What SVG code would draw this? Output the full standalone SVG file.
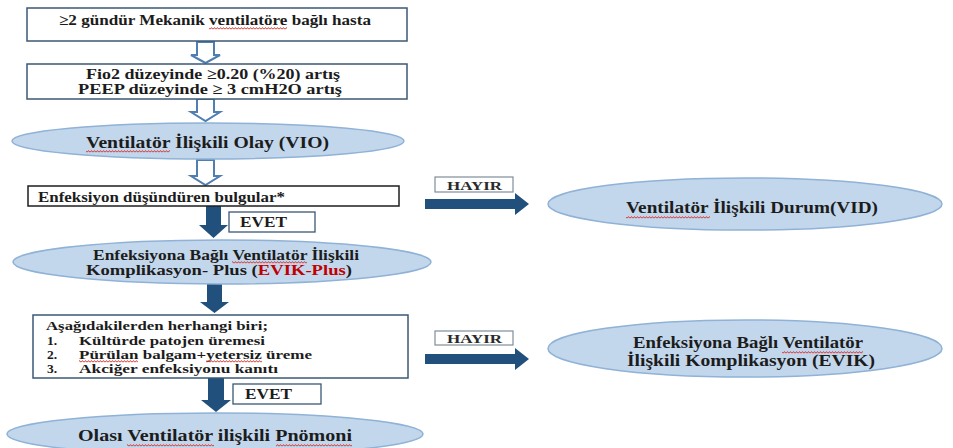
<svg xmlns="http://www.w3.org/2000/svg" width="953" height="448" viewBox="0 0 953 448" font-family="'Liberation Serif', 'Times New Roman', serif">
<defs>
<pattern id="wave" x="0" y="0" width="3" height="3" patternUnits="userSpaceOnUse">
  <path d="M0,2.4 L1.5,0.6 L3,2.4" fill="none" stroke="#d9302c" stroke-width="1"/>
</pattern>
</defs>
<style>
.box{fill:#ffffff;stroke:#3b5875;stroke-width:1.5}
.box3{fill:#ffffff;stroke:#1e1e1e;stroke-width:1.5}
.lbl{fill:#ffffff;stroke:#3b5875;stroke-width:1.3}
.lblg{fill:#ffffff;stroke:#7f8c99;stroke-width:1.2}
.ell{fill:#c3d7ec;stroke:#8fb2d6;stroke-width:1.5}
text{font-family:"Liberation Serif","Times New Roman",serif;font-weight:bold;fill:#1c1c1c}
.t{font-size:15px}
.tl{font-size:13.5px}
.tb{font-size:17.5px}
.ts{font-size:12.5px;fill:#2a2a2a}
.red{fill:#c00000}
.sq{fill:url(#wave)}
.hollow{fill:#ffffff;stroke:#4f7fb0;stroke-width:2;stroke-linejoin:miter}
.solid{fill:#22507d}
</style>

<g id="connectors">
  <path class="hollow" d="M197,42 L214,42 L214,55 L220,55 L205.5,63 L191,55 L197,55 Z"/>
  <path class="hollow" d="M197,99 L214,99 L214,112 L220,112 L205.5,121 L191,112 L197,112 Z"/>
  <path class="hollow" d="M197,160 L214,160 L214,176 L220,176 L205.5,185 L191,176 L197,176 Z"/>
  <path class="solid" d="M206,206 L221,206 L221,225 L228,225 L213.5,238 L199,225 L206,225 Z"/>
  <path class="solid" d="M207,284 L222,284 L222,302 L229,302 L214.5,313 L200,302 L207,302 Z"/>
  <path class="solid" d="M208,378 L224,378 L224,400 L231,400 L216,412 L201,400 L208,400 Z"/>
  <path class="solid" d="M425,199 L515,199 L515,193 L529,204 L515,215 L515,209 L425,209 Z"/>
  <path class="solid" d="M425,354 L515,354 L515,348 L529,359 L515,370 L515,364 L425,364 Z"/>
  <g id="lbl-evet1"><rect class="lbl" x="229" y="212" width="86" height="20"/><text class="t" x="263.5" y="227" text-anchor="middle" textLength="47" lengthAdjust="spacingAndGlyphs">EVET</text></g>
  <g id="lbl-evet2"><rect class="lbl" x="233" y="384" width="88" height="20"/><text class="t" x="268.5" y="399" text-anchor="middle" textLength="47" lengthAdjust="spacingAndGlyphs">EVET</text></g>
  <g id="lbl-hayir1"><rect class="lblg" x="435" y="177" width="78" height="15"/><text class="ts" x="474.5" y="189.5" text-anchor="middle" textLength="55" lengthAdjust="spacingAndGlyphs">HAYIR</text></g>
  <g id="lbl-hayir2"><rect class="lblg" x="435" y="331" width="78" height="14"/><text class="ts" x="474.5" y="343" text-anchor="middle" textLength="55" lengthAdjust="spacingAndGlyphs">HAYIR</text></g>
</g>

<g id="n1">
  <rect class="box" x="27" y="8" width="380" height="33"/>
  <text class="t" x="215" y="25" text-anchor="middle" textLength="312" lengthAdjust="spacingAndGlyphs">≥2 gündür Mekanik ventilatöre bağlı hasta</text>
  <rect class="sq" x="209" y="27" width="78" height="3"/>
</g>
<g id="n2">
  <rect class="box" x="27" y="64" width="380" height="35"/>
  <text class="t" x="213" y="79" text-anchor="middle" textLength="254" lengthAdjust="spacingAndGlyphs">Fio2 düzeyinde ≥0.20 (%20) artış</text>
  <text class="t" x="210" y="94" text-anchor="middle" textLength="264" lengthAdjust="spacingAndGlyphs">PEEP düzeyinde ≥ 3 cmH2O artış</text>
</g>
<g id="n3">
  <ellipse class="ell" cx="208" cy="141" rx="196" ry="18"/>
  <text class="tb" x="207.5" y="148" text-anchor="middle" textLength="243" lengthAdjust="spacingAndGlyphs">Ventilatör İlişkili Olay (VIO)</text>
  <rect class="sq" x="86" y="150" width="84" height="3"/>
</g>
<g id="n4">
  <rect class="box3" x="28" y="186" width="371" height="20"/>
  <text class="t" x="38" y="201.5" textLength="247" lengthAdjust="spacingAndGlyphs">Enfeksiyon düşündüren bulgular*</text>
</g>
<g id="n5">
  <ellipse class="ell" cx="222" cy="262" rx="209" ry="22"/>
  <text class="t" x="226" y="259.5" text-anchor="middle" textLength="266" lengthAdjust="spacingAndGlyphs">Enfeksiyona Bağlı Ventilatör İlişkili</text>
  <text class="t" x="219" y="275" text-anchor="middle" textLength="266" lengthAdjust="spacingAndGlyphs">Komplikasyon- Plus (<tspan class="red">EVIK-Plus</tspan>)</text>
  <rect class="sq" x="232" y="261" width="75" height="3"/>
</g>
<g id="n6">
  <rect class="box" x="33" y="315" width="375" height="63"/>
  <text class="tl" x="46" y="330" textLength="222" lengthAdjust="spacingAndGlyphs">Aşağıdakilerden herhangi biri;</text>
  <text class="tl" x="47" y="344.5">1.</text>
  <text class="tl" x="79" y="344.5" textLength="186" lengthAdjust="spacingAndGlyphs">Kültürde patojen üremesi</text>
  <text class="tl" x="47" y="358.5">2.</text>
  <text class="tl" x="79" y="358.5" textLength="233" lengthAdjust="spacingAndGlyphs">Pürülan balgam+yetersiz üreme</text>
  <text class="tl" x="47" y="373">3.</text>
  <text class="tl" x="79" y="373" textLength="199" lengthAdjust="spacingAndGlyphs">Akciğer enfeksiyonu kanıtı</text>
  <rect class="sq" x="79" y="360" width="59" height="3"/>
  <rect class="sq" x="206" y="360" width="56" height="3"/>
</g>
<g id="n7">
  <ellipse class="ell" cx="215" cy="434" rx="208" ry="21"/>
  <text class="tb" x="215" y="441" text-anchor="middle" textLength="274" lengthAdjust="spacingAndGlyphs">Olası Ventilatör ilişkili Pnömoni</text>
  <rect class="sq" x="127" y="444" width="87" height="3"/>
  <rect class="sq" x="276" y="444" width="76" height="3"/>
</g>
<g id="n8">
  <ellipse class="ell" cx="745" cy="204" rx="197" ry="26"/>
  <text class="tb" x="752" y="212.5" text-anchor="middle" textLength="252" lengthAdjust="spacingAndGlyphs">Ventilatör İlişkili Durum(VID)</text>
  <rect class="sq" x="626" y="216" width="84" height="3"/>
</g>
<g id="n9">
  <ellipse class="ell" cx="745" cy="348.5" rx="197" ry="28.5"/>
  <text class="tb" x="748" y="347.5" text-anchor="middle" textLength="230" lengthAdjust="spacingAndGlyphs">Enfeksiyona Bağlı Ventilatör</text>
  <text class="tb" x="751" y="365.5" text-anchor="middle" textLength="248" lengthAdjust="spacingAndGlyphs">İlişkili Komplikasyon (EVIK)</text>
  <rect class="sq" x="782" y="351" width="81" height="3"/>
</g>
</svg>
